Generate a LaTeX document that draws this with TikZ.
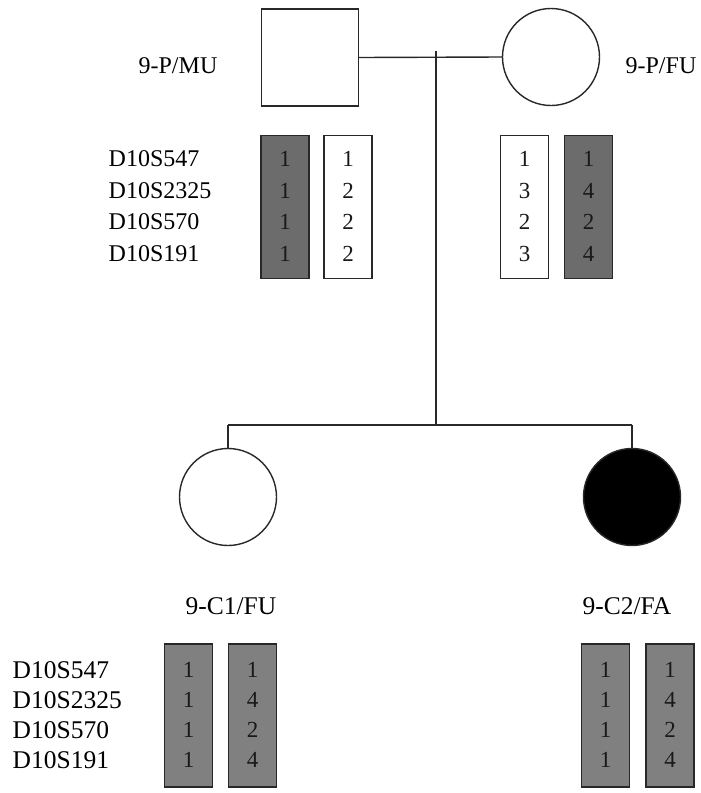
\documentclass[tikz,border=0pt]{standalone}
\usepackage{fontspec}
\setmainfont{Liberation Serif}
\definecolor{hapdark}{RGB}{108,108,108}
\definecolor{haplight}{RGB}{128,128,128}
\definecolor{linecol}{RGB}{40,40,40}
\begin{document}
\begin{tikzpicture}[x=1pt,y=-1pt, line width=1.4pt, draw=linecol,
  lbl/.style={font=\fontsize{24}{28}\selectfont, inner sep=0pt},
  lblb/.style={font=\fontsize{25.5}{28}\selectfont, inner sep=0pt},
  dig/.style={font=\fontsize{23}{26}\selectfont, inner sep=0pt, text=black!90},
  hapbox/.style={draw=linecol, minimum width=48pt, minimum height=143pt, inner sep=0pt},
  hapgrey/.style={hapbox, fill=hapdark},
  hapgreyb/.style={hapbox, fill=haplight},
  hapwhite/.style={hapbox, fill=white},
  person/.style={draw=linecol, inner sep=0pt}
]
\useasboundingbox (0,0) rectangle (701,793);

% ---------- parents ----------
\node[person, minimum width=97pt, minimum height=97pt] (pmu) at (310,57.5) {};
\node[person, circle, minimum size=97pt] (pfu) at (551,57) {};
\node[lbl] (lmu) at (178,66) {9-P/MU};
\node[lbl] (lfu) at (661,66) {9-P/FU};

\coordinate (tick) at (436,51);
\coordinate (sibtop) at (436,425);
\coordinate (sl) at (228,425);
\coordinate (sr) at (632,425);
\draw (pmu.east) -- (pfu.west);
\draw (tick) -- (sibtop);
\draw (sl) -- (sr);

% ---------- children ----------
\node[person, circle, minimum size=97pt] (c1) at (228,497) {};
\node[person, circle, fill=black, minimum size=97pt] (c2) at (632,497) {};
\draw (sl) -- (c1.north);
\draw (sr) -- (c2.north);
\node[lblb] (lc1) at (231,606) {9-C1/FU};
\node[lblb] (lc2) at (627,606) {9-C2/FA};

% ---------- parent haplotypes ----------
\node[hapgrey]  (h1) at (285,207) {};
\node[hapwhite] (h2) at (348,207) {};
\node[hapwhite] (h3) at (524.5,207) {};
\node[hapgrey]  (h4) at (588.5,207) {};

\foreach \y/\m [count=\i] in {159/D10S547,191/D10S2325,222/D10S570,254/D10S191}{
  \node[lbl, anchor=west] (tm\i) at (108,\y) {\m};
}
\foreach \y/\a/\b/\c/\d [count=\i] in {159/1/1/1/1,191/1/2/3/4,222/1/2/2/2,254/1/2/3/4}{
  \node[dig] (ta\i) at (h1.center |- 0,\y) {\a};
  \node[dig] (tb\i) at (h2.center |- 0,\y) {\b};
  \node[dig] (tc\i) at (h3.center |- 0,\y) {\c};
  \node[dig] (td\i) at (h4.center |- 0,\y) {\d};
}

% ---------- children haplotypes ----------
\node[hapgreyb] (k1) at (188.5,715.5) {};
\node[hapgreyb] (k2) at (252.5,715.5) {};
\node[hapgreyb] (k3) at (605.5,715.5) {};
\node[hapgreyb] (k4) at (670,715.5) {};

\foreach \y/\m [count=\i] in {670/D10S547,700/D10S2325,730/D10S570,760/D10S191}{
  \node[lblb, anchor=west] (bm\i) at (12,\y) {\m};
}
\foreach \y/\a/\b [count=\i] in {670/1/1,700/1/4,730/1/2,760/1/4}{
  \node[dig] (ba\i) at (k1.center |- 0,\y) {\a};
  \node[dig] (bb\i) at (k2.center |- 0,\y) {\b};
  \node[dig] (bc\i) at (k3.center |- 0,\y) {\a};
  \node[dig] (bd\i) at (k4.center |- 0,\y) {\b};
}
\end{tikzpicture}
\end{document}
